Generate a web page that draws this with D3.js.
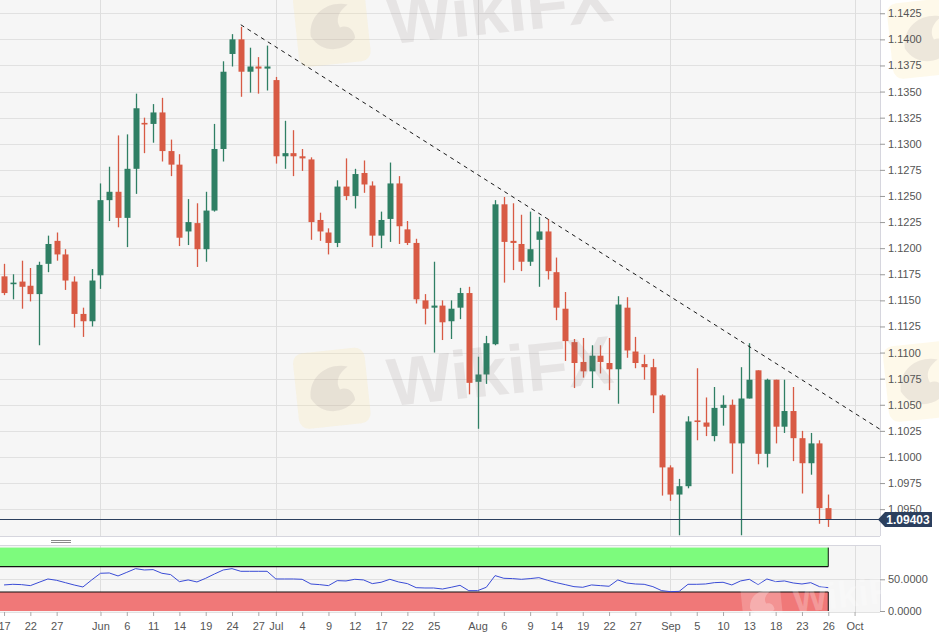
<!DOCTYPE html>
<html><head><meta charset="utf-8">
<script src="https://cdn.jsdelivr.net/npm/d3@7"></script>
<style>
body{margin:0;background:#fff;}
svg{display:block;font-family:"Liberation Sans",Arial,sans-serif;}
</style></head><body>
<svg id="chart" width="939" height="638"></svg>
<script>
// ---------- DATA ----------
const dates = [
"2019-05-17","2019-05-20","2019-05-21","2019-05-22","2019-05-23","2019-05-24",
"2019-05-27","2019-05-28","2019-05-29","2019-05-30","2019-05-31",
"2019-06-03","2019-06-04","2019-06-05","2019-06-06","2019-06-07",
"2019-06-10","2019-06-11","2019-06-12","2019-06-13","2019-06-14",
"2019-06-17","2019-06-18","2019-06-19","2019-06-20","2019-06-21",
"2019-06-24","2019-06-25","2019-06-26","2019-06-27","2019-06-28",
"2019-07-01","2019-07-02","2019-07-03","2019-07-04","2019-07-05",
"2019-07-08","2019-07-09","2019-07-10","2019-07-11","2019-07-12",
"2019-07-15","2019-07-16","2019-07-17","2019-07-18","2019-07-19",
"2019-07-22","2019-07-23","2019-07-24","2019-07-25","2019-07-26",
"2019-07-29","2019-07-30","2019-07-31","2019-08-01","2019-08-02",
"2019-08-05","2019-08-06","2019-08-07","2019-08-08","2019-08-09",
"2019-08-12","2019-08-13","2019-08-14","2019-08-15","2019-08-16",
"2019-08-19","2019-08-20","2019-08-21","2019-08-22","2019-08-23",
"2019-08-26","2019-08-27","2019-08-28","2019-08-29","2019-08-30",
"2019-09-02","2019-09-03","2019-09-04","2019-09-05","2019-09-06",
"2019-09-09","2019-09-10","2019-09-11","2019-09-12","2019-09-13",
"2019-09-16","2019-09-17","2019-09-18","2019-09-19","2019-09-20",
"2019-09-23","2019-09-24","2019-09-25","2019-09-26"];
const open = [
1.1173,1.1166,1.1168,1.1164,1.1156,1.1185,
1.1207,1.1194,1.1168,1.1137,1.1130,
1.1174,1.1246,1.1254,1.1229,1.1276,
1.1320,1.1319,1.1330,1.1293,1.1280,
1.1216,1.1224,1.1199,1.1236,1.1295,
1.1386,1.1400,1.1369,1.1374,1.1372,
1.1361,1.1288,1.1291,1.1288,1.1285,
1.1227,1.1215,1.1205,1.1259,1.1250,
1.1272,1.1260,1.1212,1.1228,1.1262,
1.1218,1.1205,1.1150,1.1143,1.1145,
1.1130,1.1143,1.1157,1.1072,1.1079,
1.1108,1.1242,1.1207,1.1204,1.1187,
1.1208,1.1216,1.1177,1.1142,1.1110,
1.1091,1.1082,1.1097,1.1090,1.1084,
1.1143,1.1101,1.1089,1.1086,1.1059,
1.0990,1.0964,1.0972,1.1035,1.1033,
1.1020,1.1047,1.1050,1.1013,1.1056,
1.1083,1.1003,1.1074,1.1029,1.1044,
1.1018,1.0994,1.1013,1.0951];
const high = [
1.1185,1.1175,1.1188,1.1181,1.1187,1.1212,
1.1215,1.1199,1.1173,1.1143,1.1180,
1.1262,1.1278,1.1308,1.1309,1.1348,
1.1325,1.1338,1.1344,1.1304,1.1290,
1.1247,1.1243,1.1254,1.1319,1.1379,
1.1405,1.1412,1.1392,1.1383,1.1394,
1.1364,1.1322,1.1313,1.1295,1.1287,
1.1234,1.1219,1.1265,1.1286,1.1276,
1.1284,1.1264,1.1235,1.1282,1.1269,
1.1226,1.1209,1.1156,1.1187,1.1150,
1.1150,1.1162,1.1163,1.1096,1.1116,
1.1246,1.1249,1.1243,1.1232,1.1235,
1.1230,1.1228,1.1191,1.1158,1.1113,
1.1114,1.1107,1.1107,1.1114,1.1154,
1.1153,1.1115,1.1098,1.1094,1.1060,
1.0992,1.0979,1.1039,1.1085,1.1057,
1.1067,1.1059,1.1055,1.1086,1.1109,
1.1083,1.1075,1.1074,1.1074,1.1067,
1.1025,1.1023,1.1016,1.0964];
const low = [
1.1155,1.1151,1.1142,1.1149,1.1107,1.1177,
1.1188,1.1160,1.1124,1.1115,1.1125,
1.1161,1.1226,1.1220,1.1201,1.1252,
1.1291,1.1301,1.1283,1.1269,1.1202,
1.1203,1.1182,1.1187,1.1235,1.1283,
1.1374,1.1345,1.1349,1.1348,1.1351,
1.1281,1.1276,1.1269,1.1274,1.1208,
1.1207,1.1194,1.1201,1.1246,1.1238,
1.1253,1.1201,1.1200,1.1206,1.1204,
1.1203,1.1147,1.1127,1.1100,1.1112,
1.1113,1.1132,1.1060,1.1027,1.1070,
1.1107,1.1167,1.1179,1.1178,1.1183,
1.1163,1.1170,1.1131,1.1092,1.1066,
1.1076,1.1066,1.1080,1.1064,1.1051,
1.1095,1.1085,1.1074,1.1042,1.0963,
1.0958,1.0925,1.0970,1.1016,1.1020,
1.1015,1.1030,1.0984,1.0925,1.1056,
1.0993,1.0990,1.1013,1.1023,1.0996,
1.0965,1.0983,1.0936,1.0933];
const close = [
1.1157,1.1167,1.1163,1.1156,1.1184,1.1204,
1.1194,1.1169,1.1137,1.1130,1.1169,
1.1246,1.1254,1.1229,1.1276,1.1334,
1.1319,1.1330,1.1293,1.1280,1.1210,
1.1225,1.1199,1.1236,1.1295,1.1369,
1.1400,1.1369,1.1374,1.1372,1.1374,
1.1288,1.1291,1.1288,1.1286,1.1225,
1.1216,1.1205,1.1259,1.1250,1.1271,
1.1261,1.1212,1.1227,1.1262,1.1221,
1.1205,1.1151,1.1142,1.1145,1.1129,
1.1142,1.1157,1.1071,1.1079,1.1109,
1.1242,1.1206,1.1205,1.1187,1.1199,
1.1216,1.1178,1.1143,1.1111,1.1090,
1.1082,1.1097,1.1091,1.1084,1.1146,
1.1102,1.1090,1.1086,1.1059,1.0990,
1.0964,1.0972,1.1034,1.1034,1.1029,
1.1047,1.1050,1.1013,1.1056,1.1074,
1.1003,1.1074,1.1029,1.1044,1.1018,
1.0994,1.1013,1.0951,1.09403];
const rsi = [
41.1,42.1,41.6,40.0,45.3,50.5,
48.4,44.7,41.0,37.9,49.0,
59.5,60.0,55.3,61.0,66.8,
64.7,65.3,59.5,57.4,46.3,
49.0,45.8,51.6,58.4,64.7,
66.8,62.6,62.6,62.6,62.6,
50.5,50.5,50.5,50.0,42.6,
41.6,40.0,47.9,47.4,50.0,
49.0,43.2,45.3,50.0,45.8,
43.2,36.8,36.3,36.3,34.7,
37.4,40.5,32.1,32.1,37.4,
55.8,51.6,51.1,50.0,51.1,
52.6,48.4,44.7,41.6,38.4,
37.4,41.1,40.0,39.0,49.0,
44.2,42.6,42.1,38.4,32.1,
30.5,31.0,42.1,42.1,42.6,
44.7,45.3,41.1,47.4,50.0,
41.6,50.5,46.3,47.4,44.2,
42.6,44.7,38.4,36.8];
const priceTicks = [1.0950,1.0975,1.1000,1.1025,1.1050,1.1075,1.1100,1.1125,1.1150,1.1175,
  1.1200,1.1225,1.1250,1.1275,1.1300,1.1325,1.1350,1.1375,1.1400,1.1425];
const rsiTicks = [0, 50];
const rsiBands = [[70, 100, "#7dfb7d"], [0, 30, "#f07878"]];
const xTickDates = ["2019-05-17","2019-05-22","2019-05-27","2019-06-03","2019-06-06","2019-06-11",
  "2019-06-14","2019-06-19","2019-06-24","2019-06-27","2019-07-01","2019-07-04","2019-07-09",
  "2019-07-12","2019-07-17","2019-07-22","2019-07-25","2019-08-01","2019-08-06","2019-08-09",
  "2019-08-14","2019-08-19","2019-08-22","2019-08-27","2019-09-02","2019-09-05","2019-09-10",
  "2019-09-13","2019-09-18","2019-09-23","2019-09-26","2019-10-01"];
const xTickLabels = ["17","22","27","Jun","6","11","14","19","24","27","Jul","4","9","12","17",
  "22","25","Aug","6","9","14","19","22","27","Sep","5","10","13","18","23","26","Oct"];
const monthStarts = ["2019-06-03","2019-07-01","2019-08-01","2019-09-02","2019-10-01"];
const trendDates = ["2019-06-25","2019-10-04"];
const trendPrices = [1.1414, 1.1026];
const lastPrice = 1.09403;

// ---------- LAYOUT ----------
const svg = d3.select("#chart");
const W = 880;               // plot right edge
const mainTop = 0, mainBottom = 536;
const rsiTop = 545, rsiBottom = 612;

const parse = d3.utcParse("%Y-%m-%d");
const t0 = parse(dates[0]);
function tIndex(s) {
  const d = parse(s);
  return d3.utcDay.range(t0, d).filter(t => t.getUTCDay() !== 0 && t.getUTCDay() !== 6).length;
}
const x = d3.scaleLinear().domain([-0.46, 99.9]).range([0, W]);
const X = s => x(tIndex(s));
const y = d3.scaleLinear().domain([1.09243, 1.14377]).range([mainBottom, mainTop]);
const yr = d3.scaleLinear().domain([0, 100]).range([611, 547.6]);

const green = "#2f7f64", red = "#d85a44";
const candles = dates.map((d, i) => ({d, i, o: open[i], h: high[i], l: low[i], c: close[i]}));

// backgrounds
svg.append("rect").attr("x", 0).attr("y", mainTop).attr("width", W).attr("height", mainBottom - mainTop).attr("fill", "#f6f6f6");
svg.append("rect").attr("x", 0).attr("y", rsiTop).attr("width", W).attr("height", rsiBottom - rsiTop).attr("fill", "#f6f6f6");

const defs = svg.append("defs");
defs.append("clipPath").attr("id", "clipMain").append("rect").attr("x", 0).attr("y", mainTop).attr("width", W).attr("height", mainBottom - mainTop);

// horizontal grid (main)
svg.append("g").selectAll("line").data(priceTicks).join("line")
  .attr("x1", 0).attr("x2", W)
  .attr("y1", d => Math.round(y(d)) + 0.5).attr("y2", d => Math.round(y(d)) + 0.5)
  .attr("stroke", "#e1e1e1").attr("stroke-width", 1);
// month gridlines
[[mainTop, mainBottom], [rsiTop, rsiBottom]].forEach(([a, b]) => {
  svg.append("g").selectAll("line").data(monthStarts).join("line")
    .attr("x1", d => Math.round(X(d)) + 0.5).attr("x2", d => Math.round(X(d)) + 0.5)
    .attr("y1", a).attr("y2", b).attr("stroke", "#dedede").attr("stroke-width", 1);
});

// borders
svg.append("line").attr("x1", 0).attr("x2", W).attr("y1", mainBottom + 0.5).attr("y2", mainBottom + 0.5).attr("stroke", "#d6d6de");
svg.append("line").attr("x1", W + 0.5).attr("x2", W + 0.5).attr("y1", 0).attr("y2", mainBottom).attr("stroke", "#d6d6de");
svg.append("line").attr("x1", 0).attr("x2", W).attr("y1", rsiTop + 0.5).attr("y2", rsiTop + 0.5).attr("stroke", "#d6d6de");
svg.append("line").attr("x1", W + 0.5).attr("x2", W + 0.5).attr("y1", rsiTop).attr("y2", rsiBottom).attr("stroke", "#d6d6de");
svg.append("line").attr("x1", 0).attr("x2", W).attr("y1", rsiBottom + 0.5).attr("y2", rsiBottom + 0.5).attr("stroke", "#e2e2e2");

// handle between panes
[540.5, 542.5].forEach(v => svg.append("line").attr("x1", 51).attr("x2", 71).attr("y1", v).attr("y2", v).attr("stroke", "#8a8a8a"));

// ---------- CANDLES ----------
const gC = svg.append("g").attr("clip-path", "url(#clipMain)");
const bw = 6;
gC.selectAll("line.wick").data(candles).join("line").attr("class", "wick")
  .attr("x1", d => Math.round(x(d.i)) + 0.5).attr("x2", d => Math.round(x(d.i)) + 0.5)
  .attr("y1", d => y(d.h)).attr("y2", d => y(d.l))
  .attr("stroke", d => d.c >= d.o ? green : red).attr("stroke-width", 1.3);
gC.selectAll("rect.body").data(candles).join("rect").attr("class", "body")
  .attr("x", d => Math.round(x(d.i)) + 0.5 - bw / 2).attr("width", bw)
  .attr("y", d => Math.min(y(d.o), y(d.c)))
  .attr("height", d => Math.max(1.6, Math.abs(y(d.o) - y(d.c))))
  .attr("fill", d => d.c >= d.o ? green : red);

// trendline
gC.append("line")
  .attr("x1", X(trendDates[0])).attr("y1", y(trendPrices[0]))
  .attr("x2", X(trendDates[1])).attr("y2", y(trendPrices[1]))
  .attr("stroke", "#1a1a1a").attr("stroke-width", 1).attr("stroke-dasharray", "4,4");

// last price line
svg.append("line").attr("x1", 0).attr("x2", W)
  .attr("y1", Math.round(y(lastPrice)) + 0.5).attr("y2", Math.round(y(lastPrice)) + 0.5)
  .attr("stroke", "#2b3f5e").attr("stroke-width", 1.2);

// ---------- RSI ----------
const xLast = x(candles.length - 1);
rsiBands.forEach(([lo, hi, col]) => {
  svg.append("rect").attr("x", 0).attr("y", yr(hi)).attr("width", xLast).attr("height", yr(lo) - yr(hi)).attr("fill", col);
});
svg.append("line").attr("x1", 0).attr("x2", W).attr("y1", Math.round(yr(50)) + 0.5).attr("y2", Math.round(yr(50)) + 0.5).attr("stroke", "#e0e0e0");
[70, 30].forEach(v => svg.append("line").attr("x1", 0).attr("x2", xLast)
  .attr("y1", yr(v)).attr("y2", yr(v)).attr("stroke", "#111").attr("stroke-width", 1.1));
svg.append("line").attr("x1", xLast).attr("x2", xLast).attr("y1", yr(100)).attr("y2", yr(70)).attr("stroke", "#111");
svg.append("line").attr("x1", xLast).attr("x2", xLast).attr("y1", yr(30)).attr("y2", yr(0)).attr("stroke", "#111");
svg.append("path").datum(rsi)
  .attr("d", d3.line().x((d, i) => x(i)).y(d => yr(d)))
  .attr("fill", "none").attr("stroke", "#3a4cd6").attr("stroke-width", 1);

// ---------- WATERMARKS ----------
function watermark(cx, cy, s, onRed) {
  const g = svg.append("g").attr("transform", `translate(${cx},${cy}) rotate(-6) scale(${s})`).attr("pointer-events", "none");
  g.append("rect").attr("x", 0).attr("y", -38).attr("width", 72).attr("height", 76).attr("rx", 10)
    .attr("fill", onRed ? "rgba(255,255,255,0.2)" : "rgba(250,228,160,0.22)");
  g.append("path").attr("d", "M14,8 C14,-14 34,-26 54,-20 C44,-14 40,-6 44,2 C52,0 58,6 58,14 C48,26 24,28 14,8 Z")
    .attr("fill", onRed ? "rgba(255,255,255,0.25)" : "rgba(150,135,140,0.16)");
  g.append("text").attr("x", 92).attr("y", 24).attr("font-size", 68).attr("font-weight", "bold")
    .attr("fill", onRed ? "rgba(255,255,255,0.25)" : "rgba(140,125,125,0.15)").text("WikiFX");
}
watermark(296, 30, 1, false);
watermark(296, 392, 1, false);
watermark(890, 42, 1, false);
watermark(886, 385, 1, false);
watermark(742, 605, 0.55, true);

// ---------- AXES ----------
const axisColor = "#555";
const yAxis = d3.axisRight(y).tickValues(priceTicks).tickFormat(d3.format(".4f")).tickSize(5).tickPadding(3);
const gy = svg.append("g").attr("transform", `translate(${W},0)`).call(yAxis);
gy.select(".domain").remove();
gy.selectAll("line").attr("stroke", "#999");
gy.selectAll("text").attr("fill", axisColor).attr("font-size", 11).attr("font-family", "Liberation Sans, Arial, sans-serif");

const yrAxis = d3.axisRight(yr).tickValues(rsiTicks).tickFormat(d3.format(".4f")).tickSize(5).tickPadding(3);
const gyr = svg.append("g").attr("transform", `translate(${W},0)`).call(yrAxis);
gyr.select(".domain").remove();
gyr.selectAll("line").attr("stroke", "#999");
gyr.selectAll("text").attr("fill", axisColor).attr("font-size", 11).attr("font-family", "Liberation Sans, Arial, sans-serif");

const xAxis = d3.axisBottom(x).tickValues(xTickDates.map(tIndex))
  .tickFormat((d, i) => xTickLabels[i]).tickSize(4).tickPadding(6);
const gx = svg.append("g").attr("transform", `translate(0,${rsiBottom})`).call(xAxis);
gx.select(".domain").remove();
gx.selectAll("line").attr("stroke", "#aaa");
gx.selectAll("text").attr("fill", axisColor).attr("font-size", 11).attr("font-family", "Liberation Sans, Arial, sans-serif");

// last price label
const ly = Math.round(y(lastPrice)) + 0.5;
svg.append("path")
  .attr("d", `M${W - 2},${ly} L${W + 5},${ly - 7.5} L${W + 52},${ly - 7.5} L${W + 52},${ly + 7.5} L${W + 5},${ly + 7.5} Z`)
  .attr("fill", "#2b3f5e");
svg.append("text").attr("x", W + 28).attr("y", ly + 4.5).attr("text-anchor", "middle")
  .attr("font-size", 12).attr("font-weight", "bold").attr("fill", "#fff").text(d3.format(".5f")(lastPrice));
</script>
</body></html>
